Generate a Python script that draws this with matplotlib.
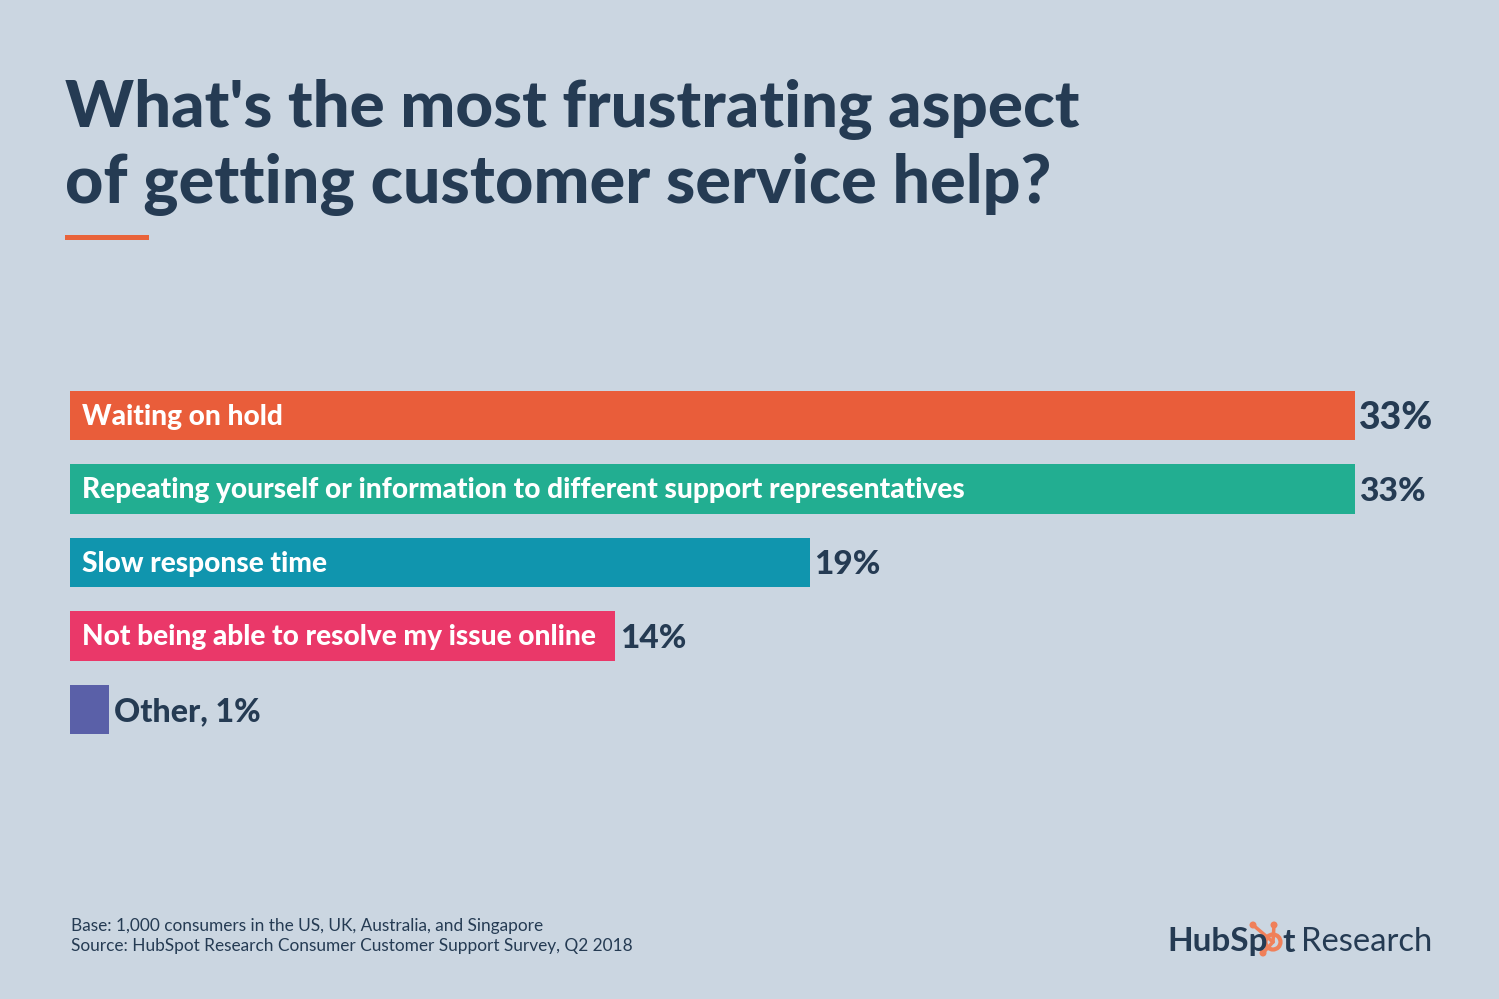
"""Most frustrating aspects of getting customer service help."""

import matplotlib

matplotlib.use("Agg")
import matplotlib.pyplot as plt
from matplotlib.patches import Circle, Rectangle

CATEGORIES = [
    "Waiting on hold",
    "Repeating yourself or information to different support representatives",
    "Slow response time",
    "Not being able to resolve my issue online",
    "Other",
]
VALUES = [33, 33, 19, 14, 1]
BAR_COLORS = ["#E95D3A", "#22AE91", "#1095AE", "#EA3869", "#5A60A8"]

BG = "#CBD6E1"
NAVY = "#253B53"
ORANGE = "#F0805A"
RULE = "#E9633A"

plt.rcParams["font.family"] = ["Lato", "DejaVu Sans"]

fig = plt.figure(figsize=(14.99, 9.99), dpi=100, facecolor=BG)

# overlay in pixel coordinates for title, footer and logo
page = fig.add_axes([0, 0, 1, 1])
page.set_xlim(0, 1499)
page.set_ylim(999, 0)
page.axis("off")

page.text(65, 110, "What's the most frustrating aspect", fontsize=47.05, fontweight=900,
          color=NAVY, va="center", ha="left")
page.text(65, 184, "of getting customer service help?", fontsize=47.9, fontweight=900,
          color=NAVY, va="center", ha="left")
page.add_patch(Rectangle((65, 234.5), 84, 5, color=RULE, lw=0))

page.text(71, 926, "Base: 1,000 consumers in the US, UK, Australia, and Singapore",
          fontsize=12.4, color=NAVY, va="center", ha="left")
page.text(71, 946, "Source: HubSpot Research Consumer Customer Support Survey, Q2 2018",
          fontsize=12.4, color=NAVY, va="center", ha="left")

# logo: wordmark with the sprocket standing in for the second o
page.text(1167, 942, "HubSp", fontsize=24, fontweight="bold", color=NAVY, va="center", ha="left")
page.text(1282, 942, "t", fontsize=24, fontweight="bold", color=NAVY, va="center", ha="left")
page.text(1301, 942, "Research", fontsize=23.6, color=NAVY, va="center", ha="left")
page.add_patch(Circle((1273, 942), 7.5, fill=False, ec=ORANGE, lw=3))
for end_x, end_y in [(1253, 925), (1274, 925), (1263, 953)]:
    page.plot([1273, end_x], [942, end_y], color=ORANGE, lw=2.5, solid_capstyle="round")
    page.add_patch(Circle((end_x, end_y), 3.5, color=ORANGE, lw=0))

# bar axes: x spans the 70-1354 px bar length
ax = fig.add_axes([70 / 1499, 1 - 746.25 / 999, (1354.5 - 70) / 1499, (746.25 - 378.75) / 999])
ax.patch.set_alpha(0)
ax.set_xlim(0, 33)
ax.set_ylim(4.5, -0.5)
ax.axis("off")

positions = list(range(len(CATEGORIES)))
ax.barh(positions, VALUES, height=0.667, color=BAR_COLORS, linewidth=0)

for pos, name, value in zip(positions, CATEGORIES, VALUES):
    if name == "Other":
        ax.annotate(f"{name}, {value}%", (value, pos), xytext=(3.5, -1.5), textcoords="offset points",
                    fontsize=23.2, fontweight=900, color=NAVY, va="center", ha="left")
        continue
    ax.annotate(name, (0, pos), xytext=(9, -1), textcoords="offset points",
                fontsize=20.2, fontweight=900, color="white", va="center", ha="left")
    # the first label is set a little larger in the original
    ax.annotate(f"{value}%", (value, pos), xytext=(3.5, -1.5), textcoords="offset points",
                fontsize=27 if pos == 0 else 24, fontweight=900, color=NAVY, va="center", ha="left",
                annotation_clip=False)

fig.savefig("out.png", dpi=100, facecolor=BG)
